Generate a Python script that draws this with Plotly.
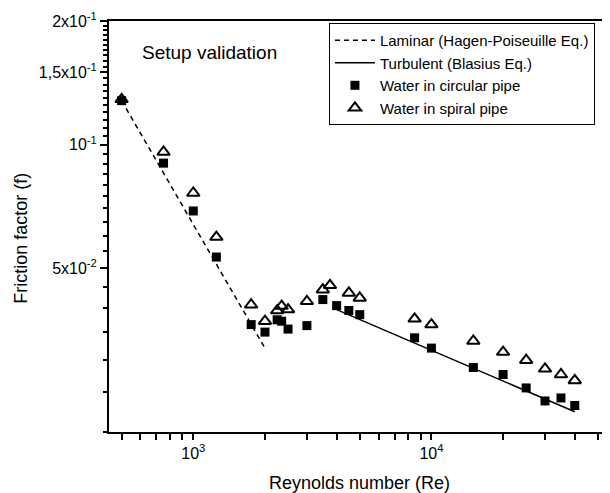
import plotly.graph_objects as go

# Data
re_circular = [500, 750, 1000, 1250, 1750, 2000, 2250, 2350, 2500, 3000, 3500,
               4000, 4500, 5000, 8500, 10000, 15000, 20000, 25000, 30000, 35000, 40000]
f_circular = [0.128, 0.0902, 0.0690, 0.0533, 0.0365, 0.0350, 0.0375, 0.0372, 0.0356,
              0.0363, 0.0420, 0.0406, 0.0395, 0.0386, 0.0339, 0.0320, 0.0287, 0.0276,
              0.0256, 0.0238, 0.0242, 0.0232]

re_spiral = [500, 750, 1000, 1250, 1750, 2000, 2250, 2350, 2500, 3000, 3500,
             3750, 4500, 5000, 8500, 10000, 15000, 20000, 25000, 30000, 35000, 40000]
f_spiral = [0.129, 0.0960, 0.0763, 0.0596, 0.0408, 0.0372, 0.0395, 0.0405, 0.0397,
            0.0416, 0.0444, 0.0455, 0.0436, 0.0424, 0.0377, 0.0365, 0.0333, 0.0313,
            0.0299, 0.0285, 0.0276, 0.0267]

re_laminar = [500, 2000]
f_laminar = [0.128, 0.032]
re_turbulent = [4000, 40000]
f_turbulent = [0.0397, 0.0224]

x_tickvals = [1000, 10000]
x_ticktext = ["10<sup>3</sup>", "10<sup>4</sup>"]
x_minor = [500, 600, 700, 800, 900, 2000, 3000, 4000, 5000, 6000, 7000, 8000, 9000,
           20000, 30000, 40000, 50000]
y_tickvals = [0.05, 0.1, 0.15, 0.2]
y_ticktext = ["5x10<sup>-2</sup>", "10<sup>-1</sup>", "1,5x10<sup>-1</sup>", "2x10<sup>-1</sup>"]
y_minor_step = "L0.005"   # minor y ticks every 0.005

FONT = "Liberation Sans, Arial, sans-serif"
X_RANGE = [2.646, 4.75]
Y_RANGE = [-1.69897, -0.69897]

x_all = sorted(x_tickvals + x_minor)
x_all_text = [x_ticktext[x_tickvals.index(v)] if v in x_tickvals else "" for v in x_all]

fig = go.Figure()
fig.add_trace(go.Scatter(x=re_laminar, y=f_laminar, mode="lines",
                         name="Laminar (Hagen-Poiseuille Eq.)",
                         line=dict(color="black", width=1.5, dash="5px,4px")))
fig.add_trace(go.Scatter(x=re_turbulent, y=f_turbulent, mode="lines",
                         name="Turbulent (Blasius Eq.)",
                         line=dict(color="black", width=1.5)))
fig.add_trace(go.Scatter(x=re_circular, y=f_circular, mode="markers",
                         name="Water in circular pipe",
                         marker=dict(symbol="square", color="black", size=9)))
fig.add_trace(go.Scatter(x=re_spiral, y=f_spiral, mode="markers",
                         name="Water in spiral pipe",
                         marker=dict(symbol="triangle-up-open", color="black", size=11,
                                     line=dict(width=2, color="black"))))

fig.update_layout(
    width=602, height=485,
    margin=dict(l=101, r=0, t=13, b=61),
    paper_bgcolor="white", plot_bgcolor="white",
    font=dict(family=FONT, color="black", size=16),
    showlegend=True,
    legend=dict(x=0.439, y=0.995, xanchor="left", yanchor="top",
                bordercolor="black", borderwidth=1, bgcolor="white",
                itemwidth=40,
                font=dict(size=15, family=FONT), tracegroupgap=0),
    xaxis=dict(type="log", range=X_RANGE, showgrid=False, zeroline=False,
               showline=True, linecolor="black", linewidth=2, mirror=True,
               ticks="outside", ticklen=6, tickwidth=1.5, tickcolor="black",
               tickmode="array", tickvals=x_all, ticktext=x_all_text,
               tickfont=dict(size=16, family=FONT)),
    yaxis=dict(type="log", range=Y_RANGE, showgrid=False, zeroline=False,
               showline=True, linecolor="black", linewidth=2, mirror=False,
               ticks="outside", ticklen=7, tickwidth=1.5, tickcolor="black",
               tickmode="array", tickvals=y_tickvals, ticktext=y_ticktext,
               tickfont=dict(size=16, family=FONT),
               minor=dict(dtick=y_minor_step, tick0=0, ticks="outside", ticklen=4,
                          tickwidth=1.5, tickcolor="black", showgrid=False)),
    annotations=[
        dict(text="Reynolds number (Re)", xref="paper", yref="paper", x=0.5, y=-0.124,
             xanchor="center", yanchor="middle", showarrow=False,
             font=dict(size=18, family=FONT)),
        dict(text="Friction factor (f)", xref="paper", yref="paper", x=-0.176, y=0.472,
             xanchor="center", yanchor="middle", showarrow=False, textangle=-90,
             font=dict(size=18, family=FONT)),
        dict(text="Setup validation", xref="paper", yref="paper", x=0.2, y=0.923,
             xanchor="center", yanchor="middle", showarrow=False,
             font=dict(size=19, family=FONT)),
    ],
)

fig.write_html("out.html")
